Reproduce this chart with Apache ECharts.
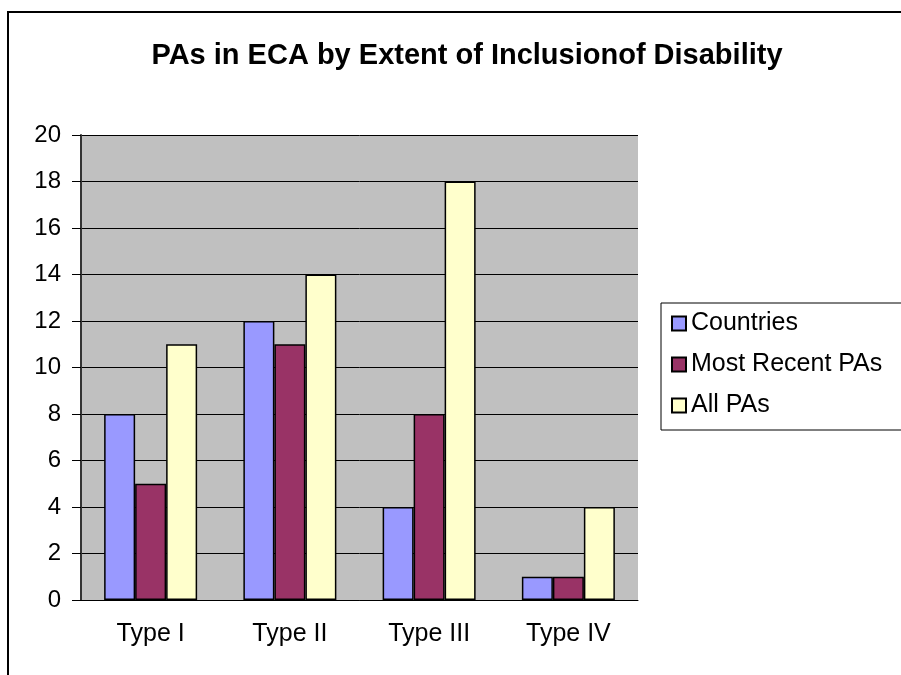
<!DOCTYPE html>
<html>
<head>
<meta charset="utf-8">
<script src="https://cdn.jsdelivr.net/npm/echarts@6/dist/echarts.min.js"></script>
<style>html,body{margin:0;padding:0;background:#fff;}#c{width:901px;height:675px;}</style>
</head>
<body>
<div id="c"></div>
<script>
var categories = ['Type I', 'Type II', 'Type III', 'Type IV'];
var countries = [8, 12, 4, 1];
var mostRecentPAs = [5, 11, 8, 1];
var allPAs = [11, 14, 18, 4];
var yTicks = [0, 20, 2];

var chart = echarts.init(document.getElementById('c'));
var font = 'Liberation Sans, Arial, sans-serif';
function bar(name, data, color) {
  return {
    name: name, type: 'bar', data: data, barWidth: 31, barGap: '0%',
    itemStyle: { color: color, borderColor: '#000', borderWidth: 1.5 }
  };
}
chart.setOption({
  animation: false,
  backgroundColor: '#fff',
  title: {
    text: 'PAs in ECA by Extent of Inclusionof Disability',
    left: 462, top: 36, textAlign: 'center',
    textStyle: { fontFamily: font, fontSize: 29, fontWeight: 'bold', color: '#000' }
  },
  graphic: [{
    type: 'rect', shape: { x: 8, y: 12, width: 1000, height: 1000 },
    style: { fill: 'none', stroke: '#000', lineWidth: 2 }, z: 100
  }],
  legend: {
    orient: 'vertical', left: 661, top: 303,
    padding: [8, 60, 12, 10],
    borderColor: '#000', borderWidth: 1,
    icon: 'rect',
    itemWidth: 14, itemHeight: 14, itemGap: 16,
    textStyle: { fontFamily: font, fontSize: 25, color: '#000', lineHeight: 25 },
    data: ['Countries', 'Most Recent PAs', 'All PAs']
  },
  grid: {
    left: 81, right: 263, top: 135, bottom: 75,
    show: true, backgroundColor: '#C0C0C0', borderWidth: 0
  },
  xAxis: {
    type: 'category', data: categories,
    axisLine: { lineStyle: { color: '#000', width: 1 } },
    axisTick: { length: 7, lineStyle: { color: '#000' } },
    axisLabel: { fontFamily: font, fontSize: 25, color: '#000', margin: 22 }
  },
  yAxis: {
    type: 'value', min: yTicks[0], max: yTicks[1], interval: yTicks[2],
    axisLine: { show: true, lineStyle: { color: '#333', width: 2 } },
    axisTick: { show: true, length: 9, lineStyle: { color: '#000' } },
    axisLabel: { fontFamily: font, fontSize: 24, color: '#000', margin: 20 },
    splitLine: { lineStyle: { color: '#000', width: 1 } }
  },
  series: [
    bar('Countries', countries, '#9999FF'),
    bar('Most Recent PAs', mostRecentPAs, '#993366'),
    bar('All PAs', allPAs, '#FFFFCC')
  ]
});
</script>
</body>
</html>
